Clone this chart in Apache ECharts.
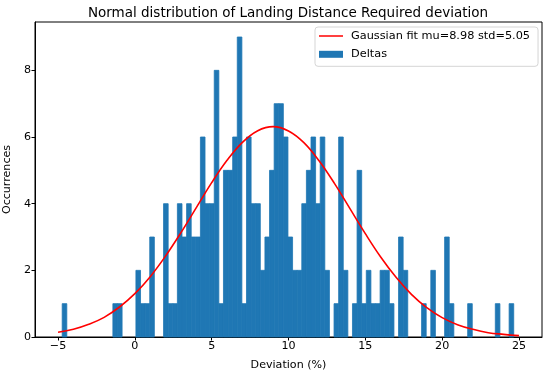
<!DOCTYPE html>
<html>
<head>
<meta charset="utf-8">
<script src="https://cdn.jsdelivr.net/npm/echarts@6/dist/echarts.min.js"></script>
<style>
html,body{margin:0;padding:0;background:#fff;}
#chart{width:550px;height:376px;}
</style>
</head>
<body>
<div id="chart"></div>
<script>
// Histogram: counts per bin (98 equal bins starting at binStart)
const binStart = -4.73;
const binWidth = 0.2999;
const counts = [
  1,0,0,0,0,0,0,0,0,0,
  0,1,1,0,0,0,2,1,1,3,
  0,0,4,1,1,4,3,4,3,3,
  6,4,4,8,1,5,5,6,9,1,
  6,4,4,2,3,5,7,7,6,3,
  2,2,4,5,6,4,6,2,0,1,
  6,2,0,1,5,1,2,1,1,2,
  2,1,0,3,2,0,0,0,1,0,
  2,0,0,3,1,0,0,0,1,0,
  0,0,0,0,1,0,0,1
];
// Gaussian fit curve, values read at integer deviations
const fitX = [-5,-4,-3,-2,-1,0,1,2,3,4,5,6,7,8,9,10,11,12,13,14,15,16,17,18,19,20,21,22,23,24,25];
const fitY = [0.14,0.23,0.38,0.59,0.90,1.30,1.81,2.43,3.13,3.88,4.63,5.30,5.84,6.19,6.31,6.18,5.83,5.28,4.60,3.85,3.10,2.40,1.79,1.28,0.88,0.58,0.37,0.23,0.13,0.08,0.04];
const xTicks = [-5,0,5,10,15,20,25];
const yTicks = [0,2,4,6,8];
const titleText = 'Normal distribution of Landing Distance Required deviation';
const fitName = 'Gaussian fit mu=8.98 std=5.05';
const histName = 'Deltas';

const histData = counts.map((c, i) => [binStart + i * binWidth, binStart + (i + 1) * binWidth, c]);
const lineData = fitX.map((x, i) => [x, fitY[i]]);

const FONT = 'DejaVu Sans';
const FS = 11.1;
const chart = echarts.init(document.getElementById('chart'), null, {renderer: 'canvas'});
chart.setOption({
  animation: false,
  backgroundColor: '#fff',
  title: {
    text: titleText,
    left: 283,
    textAlign: 'center',
    top: 1,
    textStyle: {fontFamily: FONT, fontSize: 13.5, fontWeight: 'normal', color: '#000'}
  },
  legend: {
    orient: 'vertical',
    left: 315,
    top: 27,
    padding: [2.5, 8, 5.5, 4],
    itemGap: 5.3,
    itemWidth: 24,
    itemHeight: 7,
    borderColor: '#d5d5d5',
    borderWidth: 1,
    borderRadius: 3,
    backgroundColor: 'rgba(255,255,255,0.8)',
    textStyle: {fontFamily: FONT, fontSize: 11.3, color: '#000', padding: [0, 0, 0, 3], lineHeight: 13},
    data: [
      {name: fitName, icon: 'path://M0,0 L24,0 L24,1.5 L0,1.5 Z', itemStyle: {color: '#ff0000'}},
      {name: histName, icon: 'rect'}
    ]
  },
  grid: {
    left: 35, right: 8, top: 22, bottom: 39,
    containLabel: false,
    outerBoundsMode: 'none',
    show: true, borderColor: '#000', borderWidth: 1, backgroundColor: 'transparent'
  },
  xAxis: {
    type: 'value',
    min: -6.5, max: 26.5,
    name: 'Deviation (%)',
    nameLocation: 'middle',
    nameGap: 23,
    nameTextStyle: {fontFamily: FONT, fontSize: FS, color: '#000'},
    splitLine: {show: false},
    axisLine: {show: true, onZero: false, lineStyle: {color: '#000', width: 1}},
    axisTick: {show: true, length: 3.5, inside: false, customValues: xTicks, lineStyle: {color: '#000'}},
    axisLabel: {customValues: xTicks, fontFamily: FONT, fontSize: FS, color: '#000', margin: 4,
      formatter: v => (v < 0 ? '\u2212' + Math.abs(v) : String(v))}
  },
  yAxis: {
    type: 'value',
    min: 0, max: 9.45,
    name: 'Occurrences',
    nameLocation: 'middle',
    nameGap: 21,
    nameTextStyle: {fontFamily: FONT, fontSize: FS, color: '#000'},
    splitLine: {show: false},
    axisLine: {show: true, onZero: false, lineStyle: {color: '#000', width: 1}},
    axisTick: {show: true, length: 3.5, inside: false, customValues: yTicks, lineStyle: {color: '#000'}},
    axisLabel: {customValues: yTicks, fontFamily: FONT, fontSize: FS, color: '#000', margin: 4}
  },
  series: [
    {
      name: fitName,
      type: 'line',
      data: lineData,
      smooth: 0.4,
      showSymbol: false,
      symbol: 'none',
      z: 5,
      lineStyle: {color: '#ff0000', width: 1.6},
      itemStyle: {color: '#ff0000'}
    },
    {
      name: histName,
      type: 'custom',
      data: histData,
      itemStyle: {color: '#1f77b4'},
      encode: {x: [0, 1], y: 2},
      z: 2,
      renderItem: function (params, api) {
        const c = api.value(2);
        if (!c) return null;
        const p0 = api.coord([api.value(0), 0]);
        const p1 = api.coord([api.value(1), c]);
        return {
          type: 'rect',
          shape: {x: p0[0], y: p1[1], width: p1[0] - p0[0], height: p0[1] - p1[1]},
          style: {fill: '#1f77b4', stroke: '#1f77b4', lineWidth: 0.8}
        };
      }
    }
  ]
});
</script>
</body>
</html>
